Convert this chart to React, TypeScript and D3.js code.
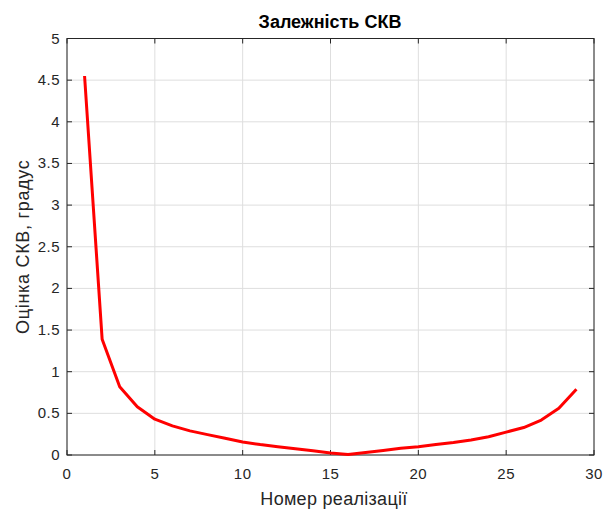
import React from "react";
import * as d3 from "d3";

const realizations = [1,2,3,4,5,6,7,8,9,10,11,12,13,14,15,16,17,18,19,20,21,22,23,24,25,26,27,28,29];
const skvValues = [4.55,1.39,0.82,0.58,0.43,0.35,0.29,0.245,0.2,0.155,0.125,0.1,0.075,0.05,0.025,0.005,0.03,0.055,0.08,0.1,0.125,0.15,0.18,0.22,0.275,0.33,0.42,0.56,0.79];
const xTicks = [0,5,10,15,20,25,30];
const yTicks = [0,0.5,1,1.5,2,2.5,3,3.5,4,4.5,5];

const W = 605, H = 509;
const L = 67, R = 594, T = 38.5, B = 455;

export default function App() {
  const x = d3.scaleLinear().domain([0, 30]).range([L, R]);
  const y = d3.scaleLinear().domain([0, 5]).range([B, T]);
  const line = d3.line<number>().x((_, i) => x(realizations[i])).y(d => y(d));
  const font = "'Liberation Sans', Arial, Helvetica, sans-serif";
  const tickColor = "#262626";
  return (
    <svg width={W} height={H} style={{ position: "absolute", left: 0, top: 0, background: "#fff" }} fontFamily={font}>
      <rect x={0} y={0} width={W} height={H} fill="#fff" />
      {xTicks.map(t => (
        <line key={"gx" + t} x1={x(t)} x2={x(t)} y1={T} y2={B} stroke="#dedede" strokeWidth={1} />
      ))}
      {yTicks.map(t => (
        <line key={"gy" + t} x1={L} x2={R} y1={y(t)} y2={y(t)} stroke="#dedede" strokeWidth={1} />
      ))}
      {xTicks.map(t => (
        <g key={"tx" + t}>
          <line x1={x(t)} x2={x(t)} y1={B} y2={B - 5} stroke={tickColor} />
          <line x1={x(t)} x2={x(t)} y1={T} y2={T + 5} stroke={tickColor} />
          <text x={x(t)} y={479} textAnchor="middle" fontSize={15} letterSpacing={0.5} fill={tickColor}>{t}</text>
        </g>
      ))}
      {yTicks.map(t => (
        <g key={"ty" + t}>
          <line x1={L} x2={L + 5} y1={y(t)} y2={y(t)} stroke={tickColor} />
          <line x1={R} x2={R - 5} y1={y(t)} y2={y(t)} stroke={tickColor} />
          <text x={60} y={y(t) + 5} textAnchor="end" fontSize={15} letterSpacing={0.5} fill={tickColor}>{t}</text>
        </g>
      ))}
      <rect x={L} y={T} width={R - L} height={B - T} fill="none" stroke={tickColor} strokeWidth={1} />
      <path d={line(skvValues) || ""} fill="none" stroke="#ff0000" strokeWidth={3} strokeLinejoin="round" />
      <text x={330} y={28} textAnchor="middle" fontSize={18} fontWeight="bold" fill="#000">Залежність СКВ</text>
      <text x={334} y={505} textAnchor="middle" fontSize={18} letterSpacing={0.3} fill={tickColor}>Номер реалізації</text>
      <text transform={`translate(28.5, ${(T + B) / 2}) rotate(-90)`} textAnchor="middle" fontSize={18} letterSpacing={0.7} fill={tickColor}>Оцінка СКВ, градус</text>
    </svg>
  );
}
